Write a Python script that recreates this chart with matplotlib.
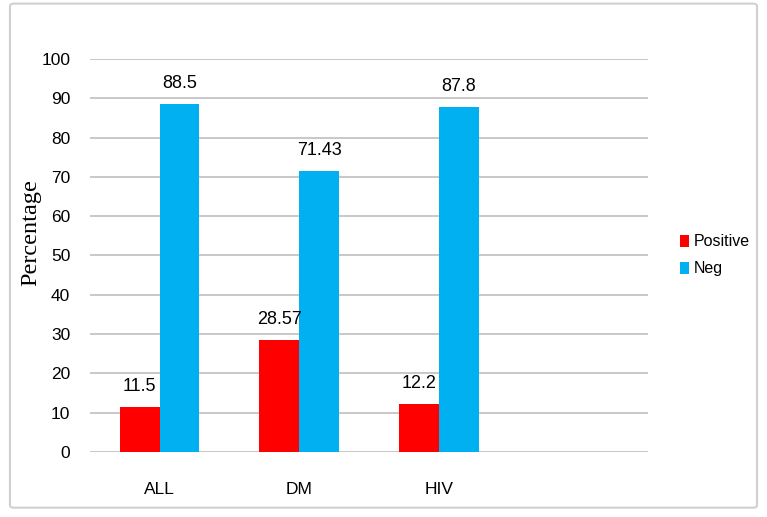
import matplotlib as mpl
mpl.use("Agg")
from matplotlib import pyplot as plt
from matplotlib.patches import FancyBboxPatch
import numpy as np

categories = ["ALL", "DM", "HIV"]
positive = [11.5, 28.57, 12.2]
neg = [88.5, 71.43, 87.8]
pos_labels = ["11.5", "28.57", "12.2"]
neg_labels = ["88.5", "71.43", "87.8"]

plt.rcParams['font.family'] = ['Liberation Sans', 'DejaVu Sans']

fig = plt.figure(figsize=(7.67, 5.17), dpi=100)
ax = fig.add_axes([0.117, 0.126, 0.728, 0.76])

# outer chart border
fig.patches.append(FancyBboxPatch((0.013, 0.018), 0.974, 0.975, boxstyle="round,pad=0,rounding_size=0.005",
                                  transform=fig.transFigure, fill=False, ec="#D0D0D0", lw=1.5))

x = np.arange(len(categories))
w = 0.285
b1 = ax.bar(x - w / 2, positive, w, color="#FF0000", label="Positive", zorder=3)
b2 = ax.bar(x + w / 2, neg, w, color="#00B0F0", label="Neg", zorder=3)

# value labels sit above each bar
for bars, labels in ((b1, pos_labels), (b2, neg_labels)):
    for rect, txt in zip(bars, labels):
        ax.text(rect.get_x() + rect.get_width() / 2, rect.get_height() + 5.2, txt,
                ha="center", va="center", fontsize=13, zorder=4)

ax.set_xlim(-0.5, 3.5)
ax.set_ylim(0, 100)
ax.set_yticks(range(0, 101, 10))
ax.set_xticks(x)
ax.set_xticklabels(categories, fontsize=12.5)
ax.tick_params(axis="y", labelsize=12.5, length=0, pad=14)
ax.tick_params(axis="x", length=0, pad=22)
ax.grid(axis="y", color="#BFBFBF", lw=1.2, zorder=0)
for s in ax.spines.values():
    s.set_visible(False)

ax.set_ylabel("Percentage", family="Liberation Serif", fontsize=17.5)
ax.yaxis.set_label_coords(-0.086, 0.557)

ax.legend(loc="center left", bbox_to_anchor=(1.045, 0.5), frameon=False, fontsize=11.5,
          handlelength=0.6, handleheight=0.8, handletextpad=0.3, labelspacing=0.75,
          borderaxespad=0)

fig.savefig("out.png", dpi=100)
